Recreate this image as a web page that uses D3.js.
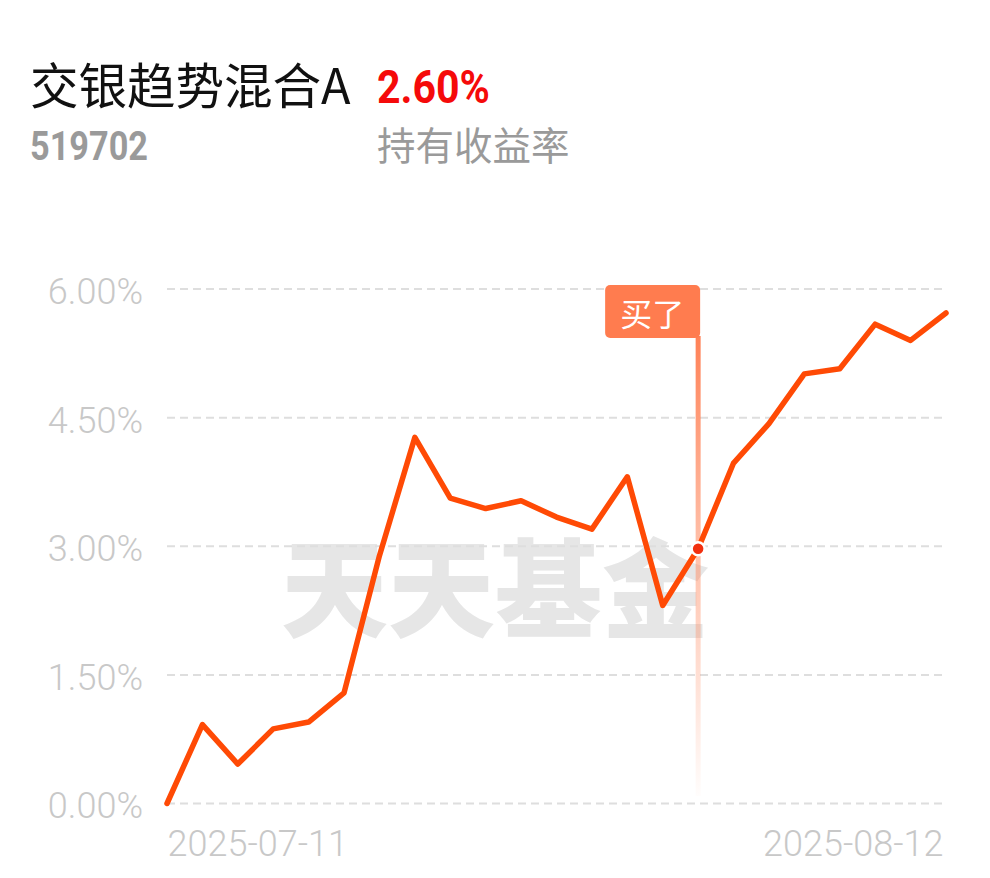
<!DOCTYPE html>
<html><head><meta charset="utf-8">
<script src="https://cdn.jsdelivr.net/npm/d3@7"></script>
<style>html,body{margin:0;padding:0;background:#fff;}svg{display:block;}</style>
</head><body>
<svg id="c" width="990" height="878"></svg>
<script>
const fundName = "交银趋势混合A";
const fundCode = "519702";
const holdReturn = "2.60%";
const holdLabel = "持有收益率";
const watermark = "天天基金";
const buyLabel = "买了";
const dates = ["2025-07-11","2025-07-14","2025-07-15","2025-07-16","2025-07-17","2025-07-18",
  "2025-07-21","2025-07-22","2025-07-23","2025-07-24","2025-07-25",
  "2025-07-28","2025-07-29","2025-07-30","2025-07-31","2025-08-01",
  "2025-08-04","2025-08-05","2025-08-06","2025-08-07","2025-08-08",
  "2025-08-11","2025-08-12"];
const returns = [0.00,0.92,0.46,0.87,0.95,1.29,2.89,4.27,3.56,3.44,3.53,3.34,3.20,3.81,2.31,2.97,3.97,4.43,5.01,5.07,5.59,5.40,5.72];
const yTicks = [0, 1.5, 3, 4.5, 6];
const xTickLabels = ["2025-07-11","2025-08-12"];
const buyDate = "2025-08-01";

const svg = d3.select("#c");
const x = d3.scalePoint().domain(dates).range([167, 946]);
const y = d3.scaleLinear().domain([0, 6]).range([803.5, 289]);
const data = dates.map((d,i)=>({d, v: returns[i]}));

// header
svg.append("text").attr("x",30).attr("y",104)
  .style("font-family","'Noto Sans CJK SC'").style("font-size","48.5px").attr("fill","#111")
  .text(fundName);
svg.append("text").attr("x",377).attr("y",103)
  .style("font-family","Roboto").style("font-weight","700").style("font-size","46px")
  .attr("fill","#f50a0a").attr("textLength",113).attr("lengthAdjust","spacingAndGlyphs")
  .text(holdReturn);
svg.append("text").attr("x",30).attr("y",160)
  .style("font-family","Roboto").style("font-weight","700").style("font-size","40px")
  .attr("fill","#9a9a9a").attr("textLength",118).attr("lengthAdjust","spacingAndGlyphs")
  .text(fundCode);
svg.append("text").attr("x",377).attr("y",160)
  .style("font-family","'Noto Sans CJK SC'").style("font-size","38.5px").attr("fill","#9a9a9a")
  .text(holdLabel);

// watermark
svg.append("text").attr("x",495).attr("y",629).attr("text-anchor","middle")
  .style("font-family","'Noto Sans CJK SC'").style("font-weight","900").style("font-size","107px")
  .attr("fill","#e6e6e6").text(watermark);

// grid
const yAxis = d3.axisLeft(y).tickValues(yTicks).tickSize(0).tickPadding(0)
  .tickFormat(d=>d3.format(".2f")(d)+"%");
const gy = svg.append("g").attr("transform","translate(143,0)").call(yAxis);
gy.select(".domain").remove();
gy.selectAll("text").attr("fill","#c8c8c8").attr("dy","0.4em")
  .style("font-family","Roboto").style("font-weight","300").style("font-size","36px").attr("x",0);
svg.append("g").selectAll("line").data(yTicks).join("line")
  .attr("x1",167).attr("x2",946).attr("y1",d=>y(d)).attr("y2",d=>y(d))
  .attr("stroke","#dedede").attr("stroke-width",2).attr("stroke-dasharray","8,5");

// x labels
const xAxis = d3.axisBottom(x).tickValues(xTickLabels).tickSize(0).tickPadding(0);
const gx = svg.append("g").attr("transform","translate(0,856)").call(xAxis);
gx.select(".domain").remove();
gx.selectAll("text").attr("fill","#c8c8c8").attr("dy",0).attr("y",0)
  .style("font-family","Roboto").style("font-weight","300").style("font-size","36px")
  .attr("text-anchor",(d,i)=> i===0 ? "start":"end")
  .attr("dx",(d,i)=> i===0 ? 0 : -3);

// buy marker vertical line
const defs = svg.append("defs");
const grad = defs.append("linearGradient").attr("id","vg").attr("x1",0).attr("x2",0).attr("y1",0).attr("y2",1);
grad.append("stop").attr("offset","0%").attr("stop-color","#ff7a4d").attr("stop-opacity",0.95);
grad.append("stop").attr("offset","45%").attr("stop-color","#ff8a60").attr("stop-opacity",0.55);
grad.append("stop").attr("offset","100%").attr("stop-color","#ff8a60").attr("stop-opacity",0.02);
const bx = x(buyDate);
svg.append("rect").attr("x",bx-2.5).attr("y",336).attr("width",5).attr("height",460).attr("fill","url(#vg)");

// line
svg.append("path").datum(data)
  .attr("d", d3.line().x(d=>x(d.d)).y(d=>y(d.v)))
  .attr("fill","none").attr("stroke","#ff4a05").attr("stroke-width",5.5)
  .attr("stroke-linejoin","round").attr("stroke-linecap","round");

// buy box
svg.append("rect").attr("x",bx-93).attr("y",285).attr("width",95).attr("height",53).attr("rx",5)
  .attr("fill","#ff7c4f");
svg.append("text").attr("x",bx-46).attr("y",326).attr("text-anchor","middle")
  .style("font-family","'Noto Sans CJK SC'").style("font-size","32px").attr("fill","#fff")
  .text(buyLabel);

// buy point
const bv = returns[dates.indexOf(buyDate)];
svg.append("circle").attr("cx",bx).attr("cy",y(bv)).attr("r",6.5)
  .attr("fill","#f2300f").attr("stroke","#fff").attr("stroke-width",2.5);
</script>
</body></html>
